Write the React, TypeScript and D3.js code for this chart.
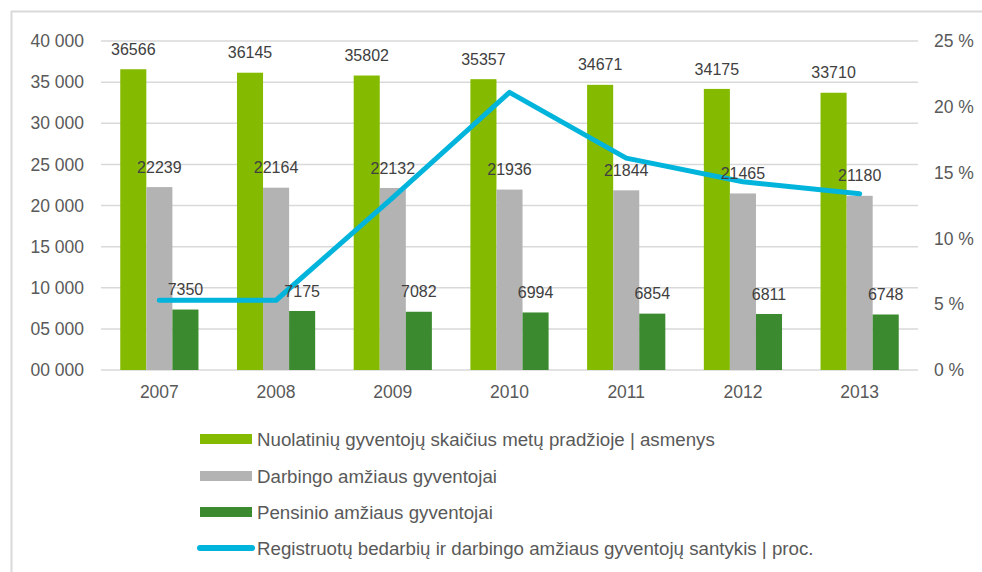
import React from "react";
import * as d3 from "d3";

const years = ["2007", "2008", "2009", "2010", "2011", "2012", "2013"];
const residents = [36566, 36145, 35802, 35357, 34671, 34175, 33710];
const workingAge = [22239, 22164, 22132, 21936, 21844, 21465, 21180];
const pensionAge = [7350, 7175, 7082, 6994, 6854, 6811, 6748];
const unemployedRatio = [5.3, 5.3, 13.1, 21.1, 16.1, 14.3, 13.4];
const leftTicks = [0, 5000, 10000, 15000, 20000, 25000, 30000, 35000, 40000];
const rightTicks = [0, 5, 10, 15, 20, 25];

const seriesNames = [
  "Nuolatinių gyventojų skaičius metų pradžioje | asmenys",
  "Darbingo amžiaus gyventojai",
  "Pensinio amžiaus gyventojai",
];
const lineName = "Registruotų bedarbių ir darbingo amžiaus gyventojų santykis | proc.";
const colors = ["#84bb00", "#b3b3b3", "#3b8a2f"];
const lineColor = "#00b4dc";

const W = 982;
const H = 572;
const M = { left: 101, right: 918, top: 41, bottom: 370 };
const font = "'Liberation Sans', Arial, sans-serif";

function fmtLeft(v: number) {
  const th = Math.floor(v / 1000);
  return `${String(th).padStart(2, "0")} 000`;
}

export default function App() {
  const x = d3.scaleBand<string>().domain(years).range([M.left, M.right]).padding(0);
  const groupW = x.bandwidth() * 0.67;
  const inner = d3.scaleBand<number>().domain([0, 1, 2]).range([0, groupW]).padding(0);
  const yL = d3.scaleLinear().domain([0, 40000]).range([M.bottom, M.top]);
  const yR = d3.scaleLinear().domain([0, 25]).range([M.bottom, M.top]);
  const data = [residents, workingAge, pensionAge];

  const line = d3
    .line<number>()
    .x((_, i) => (x(years[i]) as number) + x.bandwidth() / 2)
    .y((d) => yR(d));

  const legendX = 200;
  const legendY = [439, 476, 512, 548];

  return (
    <svg width={W} height={H} style={{ position: "absolute", left: 0, top: 0 }} fontFamily={font}>
      <rect x={0} y={0} width={W} height={H} fill="#fff" />
      <line x1={11} y1={11.5} x2={W} y2={11.5} stroke="#d9d9d9" strokeWidth={2} />
      <line x1={11.5} y1={11} x2={11.5} y2={H} stroke="#d9d9d9" strokeWidth={2} />

      {leftTicks.map((t) => (
        <line key={t} x1={M.left} x2={M.right} y1={yL(t)} y2={yL(t)} stroke="#d9d9d9" strokeWidth={1.5} />
      ))}
      {leftTicks.map((t) => (
        <text key={t} x={84} y={yL(t)} dy="0.35em" textAnchor="end" fontSize={17.5} fill="#595959">
          {fmtLeft(t)}
        </text>
      ))}
      {rightTicks.map((t) => (
        <text key={t} x={934} y={yR(t)} dy="0.35em" textAnchor="start" fontSize={17.5} fill="#595959">
          {`${t} %`}
        </text>
      ))}
      {years.map((yr) => (
        <text key={yr} x={(x(yr) as number) + x.bandwidth() / 2} y={392} dy="0.35em" textAnchor="middle" fontSize={17.5} fill="#595959">
          {yr}
        </text>
      ))}

      {data.map((series, s) =>
        series.map((v, i) => {
          const bx = (x(years[i]) as number) + (x.bandwidth() - groupW) / 2 + (inner(s) as number);
          return (
            <rect key={`${s}-${i}`} x={bx} y={yL(v)} width={inner.bandwidth()} height={yL(0) - yL(v)} fill={colors[s]} />
          );
        })
      )}

      <path d={line(unemployedRatio) || ""} fill="none" stroke={lineColor} strokeWidth={5} strokeLinecap="round" strokeLinejoin="round" />

      {data.map((series, s) =>
        series.map((v, i) => {
          const cx = (x(years[i]) as number) + (x.bandwidth() - groupW) / 2 + (inner(s) as number) + inner.bandwidth() / 2;
          return (
            <text key={`l${s}-${i}`} x={cx} y={yL(v) - 20} dy="0.35em" textAnchor="middle" fontSize={16} fill="#404040">
              {v}
            </text>
          );
        })
      )}

      {seriesNames.map((n, i) => (
        <g key={n}>
          <rect x={legendX} y={legendY[i] - 5} width={52} height={10} fill={colors[i]} />
          <text x={257} y={legendY[i]} dy="0.35em" fontSize={18.7} fill="#595959">
            {n}
          </text>
        </g>
      ))}
      <line x1={legendX} x2={252} y1={legendY[3]} y2={legendY[3]} stroke={lineColor} strokeWidth={6} strokeLinecap="round" />
      <text x={257} y={legendY[3]} dy="0.35em" fontSize={18.7} fill="#595959">
        {lineName}
      </text>
    </svg>
  );
}
